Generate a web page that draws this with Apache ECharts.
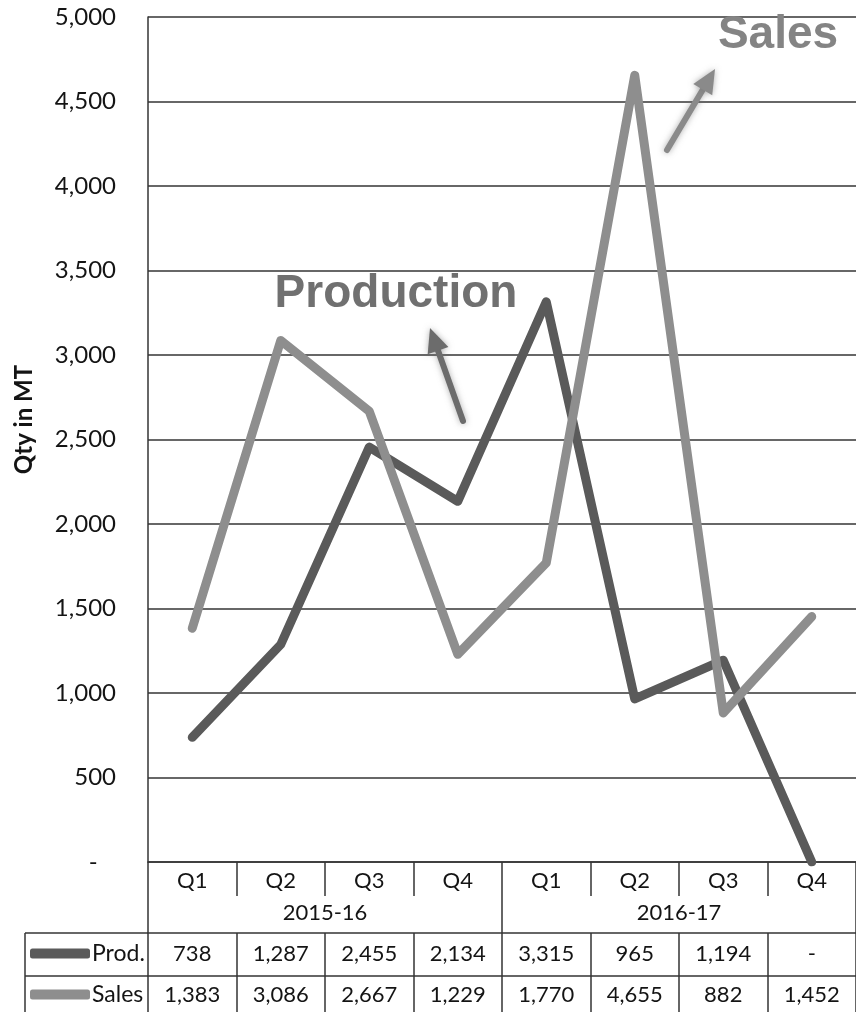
<!DOCTYPE html>
<html>
<head>
<meta charset="utf-8">
<script src="https://cdn.jsdelivr.net/npm/echarts@6/dist/echarts.min.js"></script>
<style>
  html, body { margin: 0; padding: 0; background: #fff; }
  #chart { width: 856px; height: 1012px; }
</style>
</head>
<body>
<div id="chart"></div>
<script>
// Quarterly production and sales, quantity in metric tonnes
const quarters = ['Q1', 'Q2', 'Q3', 'Q4', 'Q1', 'Q2', 'Q3', 'Q4'];
const years = ['2015-16', '2016-17'];
const prodValues = [738, 1287, 2455, 2134, 3315, 965, 1194, 0];
const salesValues = [1383, 3086, 2667, 1229, 1770, 4655, 882, 1452];
const yMin = 0, yMax = 5000, yStep = 500;

// Zero is shown as a dash, other numbers with thousands separators
const fmt = v => (v === 0 ? '-' : Number(v).toLocaleString('en-US'));
// Value axis keeps the dash set in from the right edge, accounting style
const fmtAxis = v => (v === 0 ? '-   ' : fmt(v));

const INK = '#343434';
const TXT = '#141414';
const BODY_FONT = 'Lato';

const chart = echarts.init(document.getElementById('chart'), null, { renderer: 'canvas' });

// Arrow annotation: shaft plus triangular head, soft edged
function arrow(x1, y1, x2, y2, color) {
  const dx = x2 - x1, dy = y2 - y1;
  const len = Math.hypot(dx, dy);
  const ux = dx / len, uy = dy / len;
  const headLen = 24, headHalf = 11;
  const bx = x2 - ux * headLen, by = y2 - uy * headLen;
  const px = -uy, py = ux;
  const soft = { shadowBlur: 6, shadowColor: 'rgba(110,110,110,0.55)' };
  return [
    {
      type: 'line',
      shape: { x1: x1, y1: y1, x2: bx + ux * 2, y2: by + uy * 2 },
      style: Object.assign({ stroke: color, lineWidth: 6, lineCap: 'round' }, soft),
      z: 100
    },
    {
      type: 'polygon',
      shape: { points: [[x2, y2], [bx + px * headHalf, by + py * headHalf], [bx - px * headHalf, by - py * headHalf]] },
      style: Object.assign({ fill: color }, soft),
      z: 100
    }
  ];
}

const tableLine = (x1, y1, x2, y2) => ({
  type: 'line',
  shape: { x1: x1, y1: y1, x2: x2, y2: y2 },
  style: { stroke: INK, lineWidth: 1.5 },
  z: 50
});

const option = {
  backgroundColor: '#ffffff',
  animation: false,
  grid: { left: 148, top: 17, width: 718, height: 845, containLabel: false },
  legend: {
    data: ['Prod.', 'Sales'],
    orient: 'vertical',
    left: 30,
    top: 942,
    padding: 0,
    itemWidth: 60,
    itemHeight: 10,
    itemGap: 18,
    icon: 'roundRect',
    selectedMode: false,
    textStyle: { fontFamily: BODY_FONT, fontSize: 23, color: TXT, padding: [0, 0, 0, -3] }
  },
  xAxis: [
    {
      type: 'category',
      data: quarters,
      position: 'bottom',
      axisLine: { show: true, lineStyle: { color: INK, width: 1.5 } },
      axisTick: { show: true, interval: 0, length: 34, lineStyle: { color: INK, width: 1.5 } },
      axisLabel: { interval: 0, margin: 8, fontFamily: BODY_FONT, fontSize: 22, color: TXT },
      splitLine: { show: false }
    },
    {
      type: 'category',
      data: years,
      position: 'bottom',
      axisLine: { show: false },
      axisTick: { show: true, interval: 0, length: 71, lineStyle: { color: INK, width: 1.5 } },
      axisLabel: { interval: 0, margin: 40, fontFamily: BODY_FONT, fontSize: 22, color: TXT },
      splitLine: { show: false }
    },
    {
      type: 'category',
      data: prodValues.map(fmt),
      position: 'bottom',
      offset: 71,
      axisLine: { show: true, lineStyle: { color: INK, width: 1.5 } },
      axisTick: { show: true, interval: 0, length: 82, lineStyle: { color: INK, width: 1.5 } },
      axisLabel: { interval: 0, margin: 10, fontFamily: BODY_FONT, fontSize: 22, color: TXT },
      splitLine: { show: false }
    },
    {
      type: 'category',
      data: salesValues.map(fmt),
      position: 'bottom',
      offset: 114,
      axisLine: { show: true, lineStyle: { color: INK, width: 1.5 } },
      axisTick: { show: false },
      axisLabel: { interval: 0, margin: 8, fontFamily: BODY_FONT, fontSize: 22, color: TXT },
      splitLine: { show: false }
    }
  ],
  yAxis: {
    type: 'value',
    min: yMin,
    max: yMax,
    interval: yStep,
    name: 'Qty in MT',
    nameLocation: 'middle',
    nameGap: 112,
    nameTextStyle: { fontFamily: BODY_FONT, fontWeight: 'bold', fontSize: 24, color: TXT, padding: [0, 0, 0, 40] },
    axisLine: { show: true, lineStyle: { color: INK, width: 1.5 } },
    axisTick: { show: false },
    axisLabel: { formatter: fmtAxis, margin: 32, fontFamily: BODY_FONT, fontSize: 24, color: TXT },
    splitLine: { show: true, lineStyle: { color: INK, width: 1.6 } }
  },
  series: [
    {
      name: 'Prod.',
      type: 'line',
      data: prodValues,
      symbol: 'none',
      color: '#5a5a5a',
      lineStyle: { width: 9, color: '#5a5a5a', cap: 'round', join: 'round' },
      z: 3
    },
    {
      name: 'Sales',
      type: 'line',
      data: salesValues,
      symbol: 'none',
      color: '#8e8e8e',
      lineStyle: { width: 9, color: '#8e8e8e', cap: 'round', join: 'round' },
      z: 4
    }
  ],
  graphic: [
    {
      type: 'text',
      x: 396, y: 294,
      style: {
        text: 'Production',
        font: 'bold 46px "Liberation Sans", Arial, sans-serif',
        fill: '#707070',
        align: 'center', verticalAlign: 'middle'
      },
      z: 100
    },
    {
      type: 'text',
      x: 778, y: 35,
      style: {
        text: 'Sales',
        font: 'bold 46px "Liberation Sans", Arial, sans-serif',
        fill: '#848484',
        align: 'center', verticalAlign: 'middle'
      },
      z: 100
    },
    ...arrow(463, 421, 430, 328, '#6c6c6c'),
    ...arrow(667, 150, 715, 69, '#8a8a8a'),
    tableLine(25, 933, 148, 933),
    tableLine(25, 976, 148, 976),
    tableLine(25, 933, 25, 1012)
  ]
};

chart.setOption(option);
</script>
</body>
</html>
